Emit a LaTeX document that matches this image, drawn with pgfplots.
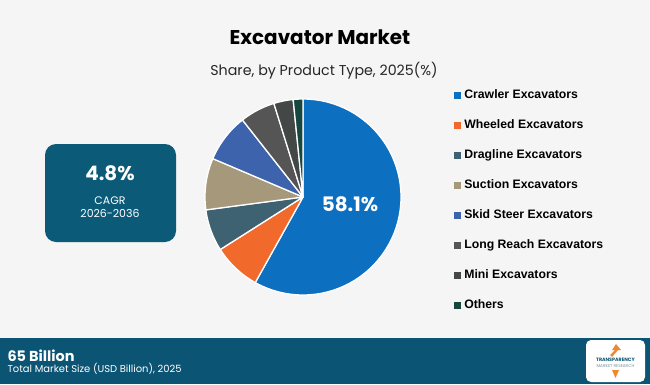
\documentclass[border=0pt]{standalone}
\usepackage{pgfplots}
\pgfplotsset{compat=1.18}
\usepackage{pgfplotstable}
\usepackage{fontspec}
\setmainfont{Poppins}
\newfontfamily\legfont{Liberation Sans}
\definecolor{bgc}{HTML}{F5F5F5}
\definecolor{bannerc}{HTML}{0B5473}
\definecolor{boxc}{HTML}{0B5A78}
\definecolor{c1}{HTML}{0C6FC0}
\definecolor{c2}{HTML}{F26A2B}
\definecolor{c3}{HTML}{3E6272}
\definecolor{c4}{HTML}{A6987A}
\definecolor{c5}{HTML}{3D63AD}
\definecolor{c6}{HTML}{555555}
\definecolor{c7}{HTML}{434846}
\definecolor{c8}{HTML}{17473F}
\definecolor{logoorange}{HTML}{F0862E}
\pgfplotstableread[col sep=comma]{
name,share,color
Crawler Excavators,58.1,c1
Wheeled Excavators,7.9,c2
Dragline Excavators,6.9,c3
Suction Excavators,8.5,c4
Skid Steer Excavators,8.0,c5
Long Reach Excavators,5.8,c6
Mini Excavators,3.2,c7
Others,1.6,c8
}\piedata
\begin{document}
\begin{tikzpicture}[x=1bp,y=1bp]
\fill[bgc] (0,0) rectangle (650,384);
\fill[bannerc] (0,0) rectangle (650,46);
% title
\node[font=\fontsize{20}{24}\selectfont\bfseries, text=black] at (320,347) {Excavator Market};
\node[font=\fontsize{14.3}{16}\selectfont, text=black!85] at (324,313) {Share, by Product Type, 2025(\%)};
% CAGR box
\fill[boxc, rounded corners=11bp] (45,142) rectangle (176,240);
\node[font=\fontsize{20}{24}\selectfont\bfseries, text=white] at (110,211) {4.8\%};
\node[font=\fontsize{11}{13}\selectfont, text=white] at (110,183) {CAGR};
\node[font=\fontsize{11}{13}\selectfont, text=white] at (110,171) {2026-2036};
% banner texts
\node[anchor=west, font=\fontsize{14.5}{17}\selectfont\bfseries, text=white] at (4,28) {65 Billion};
\node[anchor=west, font=\fontsize{10}{12}\selectfont, text=white] at (4,15.5) {Total Market Size (USD Billion), 2025};
% logo
\fill[white, rounded corners=5bp] (586,2) rectangle (645,44);
\fill[logoorange] (616,40) -- (621,34) -- (618,34) -- (612,27) -- (610,29) -- (615,34) -- (612,34) -- cycle;
\node[font=\fontsize{4.8}{5}\selectfont\bfseries, text=bannerc] at (615.5,24) {TRANSPARENCY};
\node[font=\fontsize{4.2}{5}\selectfont, text=c3!70] at (615.5,18) {MARKET RESEARCH};
\fill[logoorange] (612,14) -- (619,14) -- (615.5,6) -- cycle;
\begin{axis}[
  at={(303,187)}, anchor=center,
  scale only axis, width=200bp, height=200bp,
  xmin=-1, xmax=1, ymin=-1, ymax=1,
  hide axis, clip=false,
  legend cell align=left,
  legend image code/.code={\path[#1,draw=none] (0bp,-3.3bp) rectangle (6.6bp,3.3bp);},
  legend style={at={(1.255,1.04)}, anchor=north west, draw=none, fill=none,
    inner sep=0pt, row sep=17bp, column sep=2.5bp,
    font=\legfont\fontsize{12.3}{14}\selectfont\bfseries,
    nodes={inner sep=1bp, text height=8.5bp, text depth=2.5bp}},
]
\pgfmathsetmacro\cum{0}
\pgfplotsforeachungrouped \i in {0,...,7}{
  \pgfplotstablegetelem{\i}{share}\of\piedata \let\sh\pgfplotsretval
  \pgfplotstablegetelem{\i}{color}\of\piedata \let\col\pgfplotsretval
  \pgfplotstablegetelem{\i}{name}\of\piedata \let\nm\pgfplotsretval
  \pgfmathsetmacro\a{90-3.6*\cum}
  \pgfmathsetmacro\b{90-3.6*(\cum+\sh)}
  \pgfmathsetmacro\cum{\cum+\sh}
  \edef\doplot{\noexpand\addplot[fill=\col, draw=white, line width=1.3pt, line join=round, domain=\a:\b, samples=80] ({0.98*cos(x)},{0.98*sin(x)}) -- (axis cs:0,0) -- cycle; \noexpand\addlegendentry{\nm}}
  \doplot
}
\node[font=\fontsize{20}{24}\selectfont\bfseries, text=white] at (axis cs:0.47,-0.07) {58.1\%};
\end{axis}
\end{tikzpicture}
\end{document}
